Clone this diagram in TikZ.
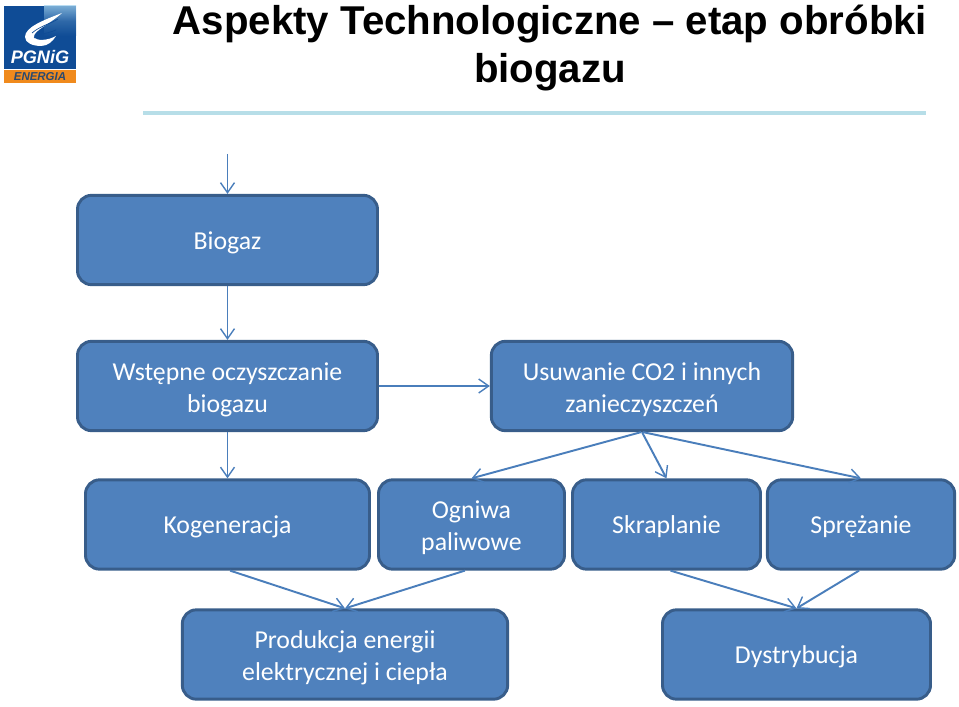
\documentclass[tikz,border=0pt]{standalone}
\usepackage{fontspec}
\setmainfont{Carlito}
\newfontfamily\titlefont{Liberation Sans}
\usetikzlibrary{arrows.meta}
\definecolor{boxfill}{HTML}{4F81BD}
\definecolor{boxline}{HTML}{385D8A}
\definecolor{conn}{HTML}{4A7EBB}
\definecolor{rulecol}{HTML}{B7DEE8}
\definecolor{logoblue}{HTML}{0F4C96}
\definecolor{logosky}{HTML}{9CCCEA}
\definecolor{logoorange}{HTML}{F08A1D}
\definecolor{logotext}{HTML}{2B4A6F}
\newcommand{\toplift}{\rule{0pt}{20pt}}
\tikzset{
  flowbox/.style={draw=boxline,fill=boxfill,line width=2.2pt,rounded corners=10.5pt,
    text=white,align=center,font=\fontsize{19.35}{24}\selectfont,inner sep=0pt,
    execute at begin node={\rule{0pt}{18.5pt}},
    execute at end node={\rule[-4.5pt]{0pt}{4.5pt}}},
  twoline/.style={execute at begin node={},execute at end node={}},
  link/.style={draw=conn,line width=1.45pt,-{Straight Barb[length=7.5pt,width=10.5pt,line width=1.05pt]},shorten >=0pt},
}
\begin{document}
\begin{tikzpicture}[x=0.75pt,y=-0.75pt]
\useasboundingbox (0,0) rectangle (959,706);
% logo
\fill[logoblue] (4,6) rectangle (76,69);
\shade[top color=logosky,bottom color=logoblue,middle color=logoblue!70!logosky,opacity=.75] (44,6) rectangle (76,36);
\fill[logoorange] (4,70) rectangle (76,83);
\fill[white] (62,13) .. controls (44,20) and (25,27) .. (25,37) .. controls (25,43) and (33,46) .. (41,46)
  .. controls (48,46) and (53,41) .. (56,36) .. controls (47,41) and (36,41) .. (34,37)
  .. controls (33,31) and (50,24) .. (62,13) -- cycle;
\draw[logoblue,line width=.5pt] (32,33) .. controls (40,26) and (50,24) .. (58,19);
\draw[logoblue,line width=.5pt] (34,38) .. controls (42,33) and (50,33) .. (56,30);
\node[text=white,font=\titlefont\bfseries\itshape\fontsize{13.6}{13.6}\selectfont,inner sep=0pt] (logoa) at (40,57) {PGNiG};
\node[text=logotext,font=\titlefont\bfseries\itshape\fontsize{8.6}{8.6}\selectfont,inner sep=0pt] (logob) at (40,77) {ENERGIA};
% title
\node[font=\titlefont\bfseries\fontsize{30.15}{36}\selectfont,align=center,inner sep=0pt] (title) at (550,48)
  {Aspekty Technologiczne – etap obróbki\\biogazu};
\coordinate (ruleL) at (143,113);
\coordinate (ruleR) at (926,113);
\draw[rulecol,line width=2.4pt] (ruleL) -- (ruleR);
% boxes
\node[flowbox,minimum width=225pt,minimum height=67pt] (biogaz) at (227.5,240) {Biogaz};
\node[flowbox,twoline,minimum width=225pt,minimum height=67pt] (wstepne) at (227.5,386) {\toplift Wstępne oczyszczanie\\biogazu};
\node[flowbox,twoline,minimum width=226pt,minimum height=67pt] (usuwanie) at (642,386) {\toplift Usuwanie CO2 i innych\\zanieczyszczeń};
\node[flowbox,minimum width=213pt,minimum height=67pt] (kogen) at (227.5,524.5) {Kogeneracja};
\node[flowbox,twoline,minimum width=139.5pt,minimum height=67pt] (ogniwa) at (471.5,524.5) {\toplift Ogniwa\\paliwowe};
\node[flowbox,minimum width=141pt,minimum height=67pt] (skrap) at (666.5,524.5) {Skraplanie};
\node[flowbox,minimum width=140.5pt,minimum height=67pt] (sprez) at (861,524.5) {Sprężanie};
\node[flowbox,twoline,minimum width=244pt,minimum height=67pt] (prod) at (345,654.5) {\toplift Produkcja energii\\elektrycznej i ciepła};
\node[flowbox,minimum width=201pt,minimum height=67pt] (dystr) at (796.5,654.5) {Dystrybucja};
% connectors
\coordinate (start) at (227.5,154);
\draw[link] (start) -- (biogaz.north);
\draw[link] (biogaz.south) -- (wstepne.north);
\draw[link] (wstepne.east) -- (usuwanie.west);
\draw[link] (wstepne.south) -- (kogen.north);
\draw[link] ([xshift=-0.75pt]usuwanie.south) -- (ogniwa.north);
\draw[link] (usuwanie.south) -- (skrap.north);
\draw[link] ([xshift=0.75pt]usuwanie.south) -- (sprez.north);
\draw[link] ([xshift=2pt]kogen.south) -- (prod.north);
\draw[link] ([xshift=-5pt]ogniwa.south) -- (prod.north);
\draw[link] ([xshift=3pt]skrap.south) -- (dystr.north);
\draw[link] ([xshift=-1.5pt]sprez.south) -- (dystr.north);
\end{tikzpicture}
\end{document}
